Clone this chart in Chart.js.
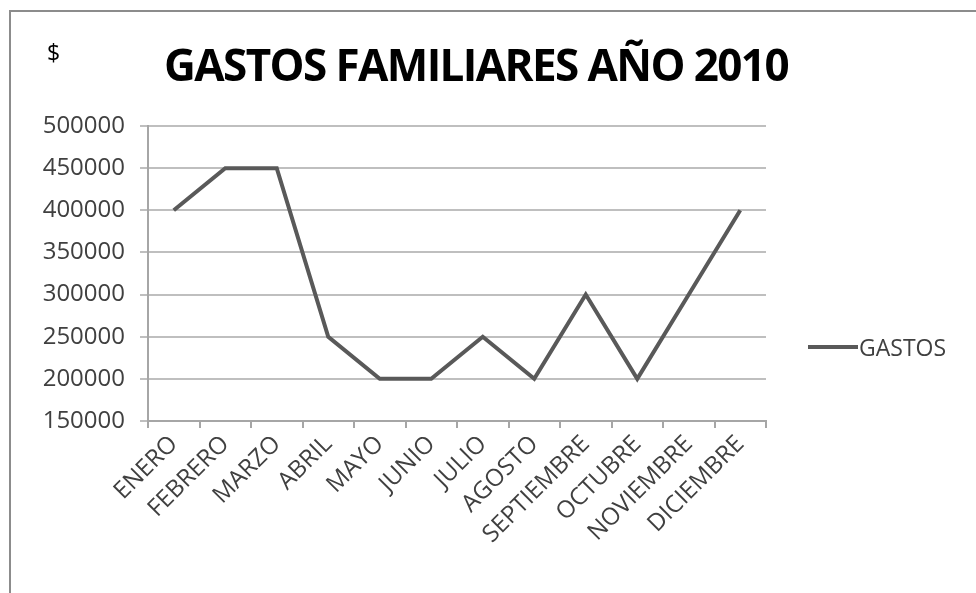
<!DOCTYPE html>
<html>
<head>
<meta charset="utf-8">
<script src="https://cdn.jsdelivr.net/npm/chart.js@4/dist/chart.umd.min.js"></script>
<style>
    html, body { margin: 0; padding: 0; background: #fff; }
    #wrap { position: relative; width: 976px; height: 593px; overflow: hidden; }
    #frame { position: absolute; left: 9px; top: 10px; width: 1000px; height: 700px;
             border-left: 2px solid #8c8c8c; border-top: 2px solid #8c8c8c; }
    #titulo { position: absolute; left: 0; top: 34px; width: 952px; text-align: center;
              font-family: "Open Sans", sans-serif; font-weight: 700; font-size: 44px;
              letter-spacing: -1.6px; color: #000; white-space: nowrap; }
    #moneda { position: absolute; left: 47px; top: 36px; font-family: "Open Sans", sans-serif;
              font-size: 23px; color: #000; }
    #leyenda { position: absolute; left: 808px; top: 331px; font-family: "Open Sans", sans-serif;
               font-size: 23px; color: #404040; display: flex; align-items: center; }
    #leyenda span.linea { display: inline-block; width: 50px; height: 4px; background: #595959; margin-right: 1px; }
    canvas { position: absolute; left: 0; top: 0; }
</style>
</head>
<body>
<div id="wrap">
    <div id="frame"></div>
    <canvas id="chartGastos" width="976" height="593"></canvas>
    <div id="moneda">$</div>
    <div id="titulo">GASTOS FAMILIARES AÑO 2010</div>
    <div id="leyenda"><span class="linea"></span><span>GASTOS</span></div>
</div>
<script>
// Datos del gráfico
const meses = ['ENERO', 'FEBRERO', 'MARZO', 'ABRIL', 'MAYO', 'JUNIO', 'JULIO',
               'AGOSTO', 'SEPTIEMBRE', 'OCTUBRE', 'NOVIEMBRE', 'DICIEMBRE'];
const gastos = [400000, 450000, 450000, 250000, 200000, 200000, 250000,
                200000, 300000, 200000, 300000, 400000];
const serieNombre = 'GASTOS';
const ejeMin = 150000;
const ejeMax = 500000;
const ejePaso = 50000;

document.addEventListener('DOMContentLoaded', () => {
    renderGastosChart();
});

function renderGastosChart() {
    const ctx = document.getElementById('chartGastos');
    if (!ctx) return;

    const fuente = { family: '"Open Sans", sans-serif', size: 24 };

    new Chart(ctx, {
        type: 'line',
        data: {
            labels: meses,
            datasets: [{
                label: serieNombre,
                data: gastos,
                borderColor: '#595959',
                borderWidth: 4,
                pointRadius: 0,
                tension: 0,
                fill: false
            }]
        },
        options: {
            responsive: false,
            animation: false,
            layout: { padding: { top: 126, right: 210, left: 0, bottom: 0 } },
            plugins: {
                legend: { display: false },
                title: { display: false },
                tooltip: { enabled: false }
            },
            scales: {
                x: {
                    offset: true,
                    grid: { offset: true, drawOnChartArea: false, drawTicks: true, tickLength: 7, color: '#a6a6a6', lineWidth: 2 },
                    border: { display: true, color: '#a6a6a6', width: 2 },
                    ticks: { color: '#404040', font: fuente, maxRotation: 45, minRotation: 45, autoSkip: false, padding: 2 },
                    afterFit: (scale) => { scale.height = 593 - 421; }
                },
                y: {
                    min: ejeMin,
                    max: ejeMax,
                    ticks: { stepSize: ejePaso, color: '#404040', font: fuente, padding: 15,
                             callback: (v) => String(v) },
                    grid: { color: '#bfbfbf', lineWidth: 2, tickLength: 8 },
                    border: { display: true, color: '#a6a6a6', width: 2 },
                    afterFit: (scale) => { scale.width = 148; }
                }
            }
        }
    });
}
</script>
</body>
</html>
